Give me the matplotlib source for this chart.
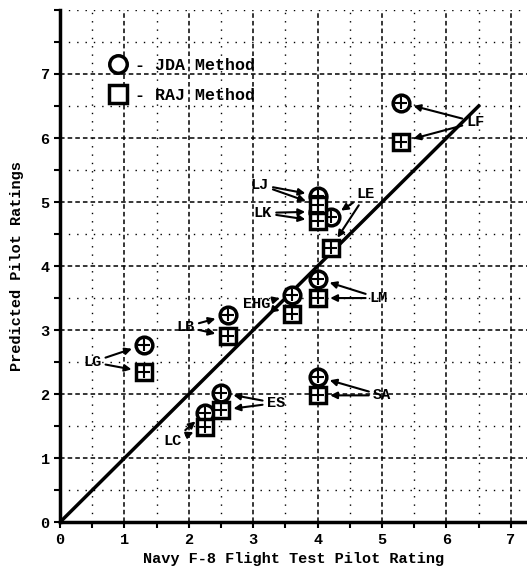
import matplotlib
matplotlib.use("Agg")
import matplotlib.pyplot as plt
from matplotlib.ticker import MultipleLocator

# configurations and ratings
configs = ["LF", "LJ", "LK", "LE", "LM", "EHG", "LB", "LG", "ES", "LC", "SA"]
flight_rating = [5.3, 4.0, 4.0, 4.2, 4.0, 3.6, 2.6, 1.3, 2.5, 2.25, 4.0]
jda_rating = [6.55, 5.1, 4.85, 4.76, 3.8, 3.55, 3.23, 2.77, 2.02, 1.70, 2.27]
raj_rating = [5.94, 4.95, 4.7, 4.28, 3.5, 3.25, 2.9, 2.35, 1.75, 1.48, 1.98]
ideal = [0, 6.5]

# where each label text sits
label_pos = [(6.45, 6.25), (3.1, 5.27), (3.15, 4.83), (4.75, 5.12), (4.95, 3.5),
             (3.05, 3.4), (1.95, 3.05), (0.5, 2.5), (3.35, 1.86), (1.75, 1.27),
             (5.0, 1.98)]

mono = ["Liberation Mono", "DejaVu Sans Mono"]
plt.rcParams["font.family"] = mono
plt.rcParams["font.weight"] = "bold"

fig = plt.figure(figsize=(5.27, 5.86), dpi=100)
ax = fig.add_axes([0.114, 0.109, 0.886, 0.874])

ax.set_xlim(0, 7.25)
ax.set_ylim(0, 8)
ax.xaxis.set_major_locator(MultipleLocator(1))
ax.yaxis.set_major_locator(MultipleLocator(1))
ax.xaxis.set_minor_locator(MultipleLocator(0.5))
ax.yaxis.set_minor_locator(MultipleLocator(0.5))
ax.grid(which="major", color="black", linestyle=(0, (3, 2)), linewidth=1.1)
ax.grid(which="minor", color="black", linestyle=(0, (1, 5)), linewidth=1.0)
ax.set_axisbelow(True)

for s in ["top", "right"]:
    ax.spines[s].set_visible(False)
for s in ["left", "bottom"]:
    ax.spines[s].set_linewidth(2.5)
ax.tick_params(which="both", length=4, width=1.5, labelsize=11)
ax.set_yticks(range(0, 8))
ax.set_xticks(range(0, 8))

ax.plot(ideal, ideal, color="black", linewidth=2.5)

arrow = dict(arrowstyle="-|>", color="black", lw=1.5, shrinkA=1, shrinkB=9,
             mutation_scale=10)
for i, name in enumerate(configs):
    # first arrow carries the visible label, second one an invisible copy
    for yv, col in ((jda_rating[i], "black"), (raj_rating[i], "none")):
        ax.annotate(name, xy=(flight_rating[i], yv), xytext=label_pos[i],
                    fontsize=11, fontweight="bold", color=col,
                    ha="center", va="center", arrowprops=arrow)

ax.plot(flight_rating, jda_rating, "o", markersize=12, markerfacecolor="white",
        markeredgecolor="black", markeredgewidth=2.5, label="- JDA Method")
ax.plot(flight_rating, raj_rating, "s", markersize=12, markerfacecolor="white",
        markeredgecolor="black", markeredgewidth=2.5, label="- RAJ Method")
ax.plot(flight_rating + flight_rating, jda_rating + raj_rating, "+",
        color="black", markersize=8, markeredgewidth=1.5)

ax.legend(loc="upper left", bbox_to_anchor=(0.075, 0.935), frameon=False,
          handletextpad=0.5, handlelength=1.0, labelspacing=0.9,
          markerscale=1.05,
          prop={"family": mono, "weight": "bold", "size": 12})

ax.set_xlabel("Navy F-8 Flight Test Pilot Rating", fontsize=11, fontweight="bold", labelpad=4)
ax.set_ylabel("Predicted Pilot Ratings", fontsize=11, fontweight="bold", labelpad=12)

fig.savefig("out.png", dpi=100)
